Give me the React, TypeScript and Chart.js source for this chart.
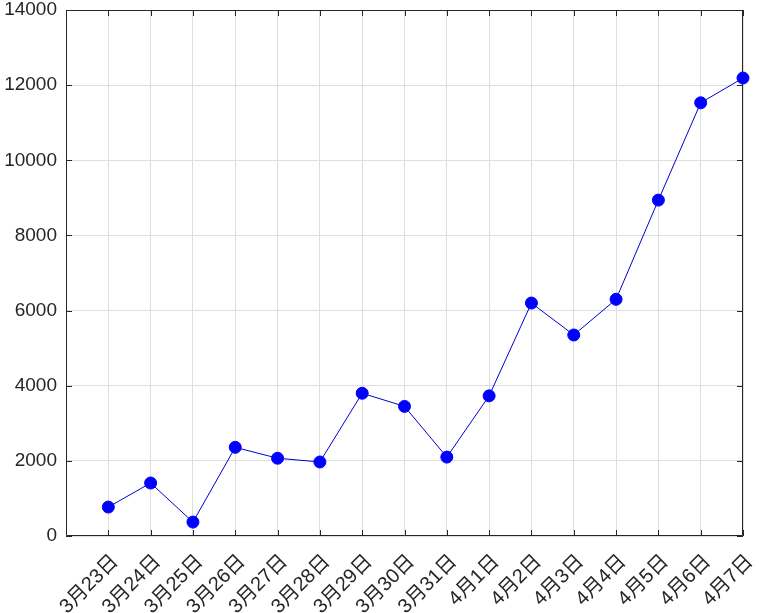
import React, { useEffect, useRef } from "react";
import { Chart, registerables } from "chart.js";

Chart.register(...registerables);

const categories = [
  "3月23日", "3月24日", "3月25日", "3月26日", "3月27日", "3月28日", "3月29日", "3月30日",
  "3月31日", "4月1日", "4月2日", "4月3日", "4月4日", "4月5日", "4月6日", "4月7日",
];
const values = [770, 1410, 370, 2360, 2070, 1970, 3800, 3450, 2100, 3730, 6200, 5350, 6300, 8940, 11530, 12190];
const yTicks = [0, 2000, 4000, 6000, 8000, 10000, 12000, 14000];

const FONT = "'Liberation Sans', Arial, 'Noto Sans CJK SC', sans-serif";
const AXIS_COLOR = "#262626";

const boxPlugin = {
  id: "matlabBox",
  beforeDatasetsDraw(chart: any) {
    const { ctx, chartArea } = chart;
    const { left, right, top, bottom } = chartArea;
    const xs = chart.scales.x;
    const ys = chart.scales.y;
    const len = 6;
    ctx.save();
    ctx.strokeStyle = AXIS_COLOR;
    ctx.lineWidth = 1;
    ctx.beginPath();
    ctx.rect(left + 0.5, top + 0.5, right - left - 1, bottom - top - 1);
    ctx.stroke();
    ctx.beginPath();
    categories.forEach((_, i) => {
      const x = Math.round(xs.getPixelForValue(i)) + 0.5;
      ctx.moveTo(x, bottom);
      ctx.lineTo(x, bottom - len);
      ctx.moveTo(x, top);
      ctx.lineTo(x, top + len);
    });
    yTicks.forEach((v) => {
      const y = Math.round(ys.getPixelForValue(v)) + 0.5;
      ctx.moveTo(left, y);
      ctx.lineTo(left + len, y);
      ctx.moveTo(right, y);
      ctx.lineTo(right - len, y);
    });
    ctx.stroke();
    ctx.restore();
  },
};

const zeroPad = (s: any) => {
  s.paddingTop = 0;
  s.paddingBottom = 0;
  s.paddingLeft = 0;
  s.paddingRight = 0;
};

export default function App() {
  const ref = useRef<HTMLCanvasElement | null>(null);
  useEffect(() => {
    if (!ref.current) return;
    const chart = new Chart(ref.current, {
      type: "line",
      data: {
        datasets: [
          {
            data: values.map((v, i) => ({ x: i, y: v })),
            borderColor: "#0000cc",
            borderWidth: 1,
            backgroundColor: "#0000ff",
            pointBackgroundColor: "#0000ff",
            pointBorderColor: "#0000ff",
            pointRadius: 6,
            pointBorderWidth: 1,
            tension: 0,
            fill: false,
            clip: false,
          },
        ],
      },
      options: {
        animation: false,
        responsive: true,
        maintainAspectRatio: false,
        layout: { padding: { top: 10, right: 16, left: 0, bottom: 0 } },
        plugins: { legend: { display: false }, tooltip: { enabled: false } },
        scales: {
          x: {
            type: "linear",
            min: -1,
            max: 15,
            afterFit: (s: any) => {
              s.height = 77;
              zeroPad(s);
            },
            afterBuildTicks: (s: any) => {
              s.ticks = [-1, ...categories.map((_, i) => i)].map((v) => ({ value: v }));
            },
            ticks: {
              autoSkip: false,
              maxRotation: 45,
              minRotation: 45,
              padding: 14,
              labelOffset: 7,
              color: AXIS_COLOR,
              font: { family: FONT, size: 20 },
              callback: (v: any) => (v >= 0 && Number.isInteger(v) ? categories[v] : ""),
            },
            grid: { color: "#dedede", drawTicks: false, lineWidth: 1 },
            border: { display: false },
          },
          y: {
            min: 0,
            max: 14000,
            afterFit: (s: any) => {
              s.width = 66;
              zeroPad(s);
            },
            afterBuildTicks: (s: any) => {
              s.ticks = yTicks.map((v) => ({ value: v }));
            },
            ticks: {
              padding: 9,
              color: AXIS_COLOR,
              font: { family: FONT, size: 19 },
              callback: (v: any) => String(v),
            },
            grid: { color: "#dedede", drawTicks: false, lineWidth: 1 },
            border: { display: false },
          },
        },
      },
      plugins: [boxPlugin],
    });
    return () => chart.destroy();
  }, []);
  return (
    <div style={{ position: "fixed", left: 0, top: 0, width: 759, height: 613, background: "#fff" }}>
      <canvas ref={ref} />
    </div>
  );
}
